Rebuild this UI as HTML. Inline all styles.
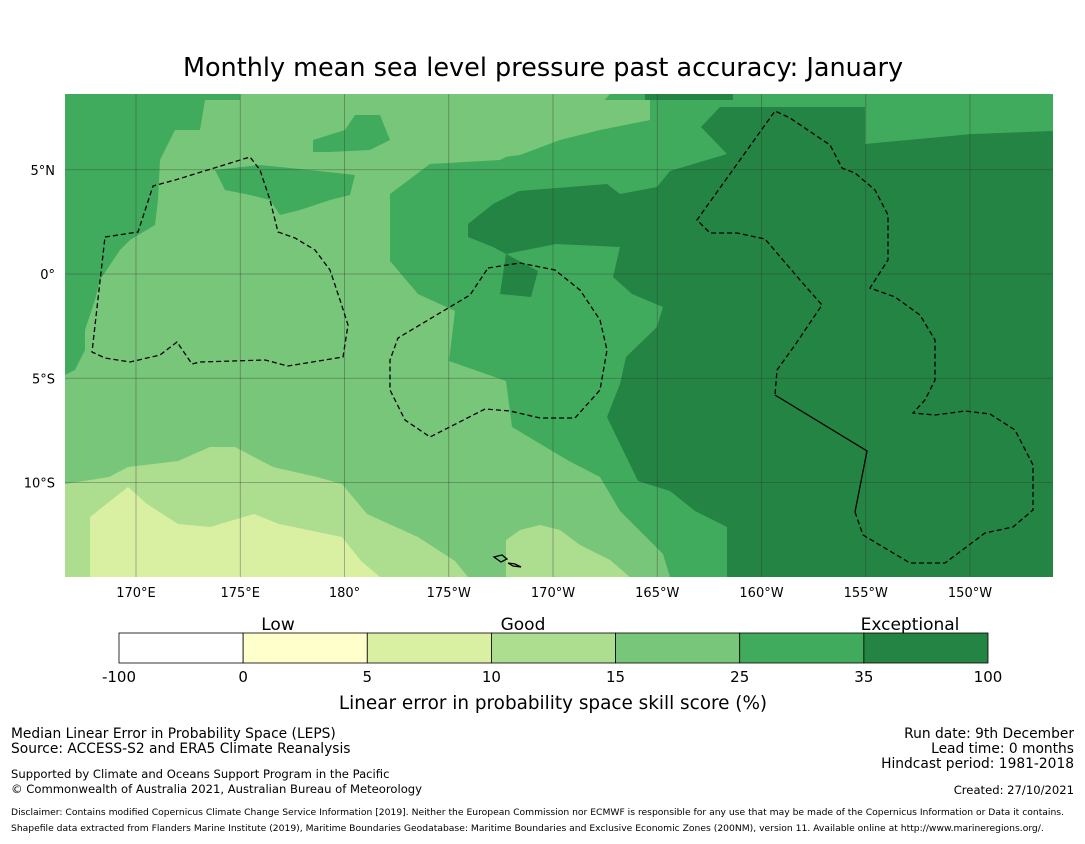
<!DOCTYPE html>
<html><head><meta charset="utf-8">
<style>
body{margin:0;background:#fff;}
svg text{font-family:"DejaVu Sans","Liberation Sans",sans-serif;}
</style></head>
<body>
<svg id="fig" width="1085" height="839" viewBox="0 0 1085 839" xmlns="http://www.w3.org/2000/svg">
<text x="543" y="76" font-size="25.5" text-anchor="middle">Monthly mean sea level pressure past accuracy: January</text>
<defs><clipPath id="mc"><rect x="65" y="94" width="988" height="483"/></clipPath></defs>
<g clip-path="url(#mc)">
<rect x="65" y="94" width="988" height="483" fill="#78c679"/>
<polygon fill="#41ab5d" points="65,94 240,94 240,100 205,100 200,130 175,130 160,160 158,200 155,225 130,240 120,250 100,280 95,300 85,330 85,350 75,370 65,375"/>
<polygon fill="#41ab5d" points="215,170 260,165 310,170 355,175 350,195 330,200 300,210 280,215 270,200 250,195 225,190"/>
<polygon fill="#41ab5d" points="313,140 345,130 355,115 380,115 390,140 370,150 330,152 313,152"/>
<polygon fill="#41ab5d" points="550,94 1053,94 1053,577 670,577 663,554 620,511 600,477 569,461 512,427 506,381 449,361 455,311 418,294 390,261 390,194 430,164 500,160 520,150 560,130 560,115 600,105 610,94"/>
<polygon fill="#78c679" points="437,112 520,110 560,105 600,100 650,100 650,120 600,130 560,140 520,155 480,160 440,160"/>
<polygon fill="#238443" points="701,127 720,107 865,107 865,144 972,134 1053,131 1053,577 727,577 727,527 695,511 670,491 638,481 620,444 607,417 620,384 626,357 657,327 663,307 632,294 613,277 620,247 556,244 506,254 500,294 531,297 538,271 493,247 468,237 468,224 493,204 519,191 607,184 620,194 657,187 670,171 727,154"/>
<polygon fill="#238443" points="645,94 733,94 733,100 645,100"/>
<polygon fill="#addd8e" points="65,484 109,477 128,467 178,461 210,447 235,447 273,467 317,477 342,484 367,514 418,537 455,561 468,577 65,577"/>
<polygon fill="#addd8e" points="506,577 506,540 520,530 540,525 560,530 580,545 610,560 630,577"/>
<polygon fill="#d9f0a3" points="90,577 90,517 128,487 147,504 178,524 210,527 254,514 279,524 342,537 361,561 380,577"/>
<g id="grid" stroke="#333" stroke-opacity="0.45" stroke-width="0.8"></g>
<g fill="none" stroke="#000" stroke-width="1.3">
<polyline stroke-dasharray="5,3" points="105,237 138,232 153,186 175,180 250,157 260,170 270,200 278,232 295,238 315,250 330,270 340,300 348,325 343,357 288,366 265,360 200,362 192,364 177,342 160,355 130,362 105,358 92,352 105,237"/>
<polyline stroke-dasharray="5,3" points="488,268 520,263 555,270 580,290 600,320 607,350 600,390 575,418 540,418 510,411 485,409 430,437 405,420 390,390 390,360 398,338 470,295 488,268"/>
<polyline stroke-dasharray="5,3" points="855,512 863,535 910,563 945,563 985,533 1013,527 1033,510 1033,465 1015,430 990,414 965,411 935,415 913,413 925,400 935,380 935,340 920,315 895,297 870,288 888,260 888,215 875,190 855,173 842,168 830,145 790,118 775,111 697,220 710,233 737,233 765,239 800,280 822,305 795,345 777,370 775,395"/>
<polyline points="775,395 867,451 855,512"/>
<path d="M494,557 l8,-2 5,4 -6,3z M508,563 l7,1 6,3 -8,-1z"/>
</g>
</g>
<g id="ticks" font-size="13"></g>
<g id="cbar"></g>
<text x="278" y="630" font-size="17" text-anchor="middle">Low</text>
<text x="523" y="630" font-size="17" text-anchor="middle">Good</text>
<text x="910" y="630" font-size="17" text-anchor="middle">Exceptional</text>
<text x="553" y="709" font-size="18.4" text-anchor="middle">Linear error in probability space skill score (%)</text>
<g font-size="13.8">
<text x="11" y="738">Median Linear Error in Probability Space (LEPS)</text>
<text x="11" y="753">Source: ACCESS-S2 and ERA5 Climate Reanalysis</text>
<text x="11" y="778" font-size="11.6">Supported by Climate and Oceans Support Program in the Pacific</text>
<text x="11" y="793" font-size="11.6">© Commonwealth of Australia 2021, Australian Bureau of Meteorology</text>
<text x="1074" y="738" text-anchor="end">Run date: 9th December</text>
<text x="1074" y="753" text-anchor="end">Lead time: 0 months</text>
<text x="1074" y="768" text-anchor="end">Hindcast period: 1981-2018</text>
<text x="1074" y="794" font-size="11.6" text-anchor="end">Created: 27/10/2021</text>
<text x="11" y="815" font-size="9.2">Disclaimer: Contains modified Copernicus Climate Change Service Information [2019]. Neither the European Commission nor ECMWF is responsible for any use that may be made of the Copernicus Information or Data it contains.</text>
<text x="11" y="831" font-size="9.2">Shapefile data extracted from Flanders Marine Institute (2019), Maritime Boundaries Geodatabase: Maritime Boundaries and Exclusive Economic Zones (200NM), version 11. Available online at http://www.marineregions.org/.</text>
</g>
</svg>
<script>
const lonLabels = ["170°E","175°E","180°","175°W","170°W","165°W","160°W","155°W","150°W"];
const lonValues = [170,175,180,185,190,195,200,205,210];
const latLabels = ["5°N","0°","5°S","10°S"];
const latValues = [5,0,-5,-10];
const cbarTicks = ["-100","0","5","10","15","25","35","100"];
const cbarColors = ["#ffffff","#ffffcc","#d9f0a3","#addd8e","#78c679","#41ab5d","#238443"];
const NS="http://www.w3.org/2000/svg";
const xLon = v => 136 + (v-170)*20.85;
const yLat = v => 274 - v*20.85;
const grid=document.getElementById('grid'), ticks=document.getElementById('ticks'), cbar=document.getElementById('cbar');
function mk(t,a){const e=document.createElementNS(NS,t);for(const k in a)e.setAttribute(k,a[k]);return e;}
lonValues.forEach((v,i)=>{
  const x=xLon(v);
  const l=mk('line',{x1:x,x2:x,y1:94,y2:577});
  
  
  grid.appendChild(l);
  const t=mk('text',{x:x,y:597,'text-anchor':'middle'});t.textContent=lonLabels[i];
  
  
  ticks.appendChild(t);
});
latValues.forEach((v,i)=>{
  const y=yLat(v);
  const l=mk('line',{x1:65,x2:1053,y1:y,y2:y});
  
  
  grid.appendChild(l);
  const t=mk('text',{x:55,y:y+5,'text-anchor':'end'});t.textContent=latLabels[i];
  
  
  ticks.appendChild(t);
});
const cx0=119, cw=(988-119)/cbarColors.length;
cbarColors.forEach((c,i)=>{
  const r=mk('rect',{x:cx0+i*cw,y:633,width:cw,height:30,fill:c,stroke:'#000','stroke-width':0.8});
  
  
  cbar.appendChild(r);
});
cbarTicks.forEach((s,i)=>{
  const t=mk('text',{x:cx0+i*cw,y:682,'font-size':15,'text-anchor':'middle'});t.textContent=s;
  
  
  cbar.appendChild(t);
});
</script>
</body></html>
